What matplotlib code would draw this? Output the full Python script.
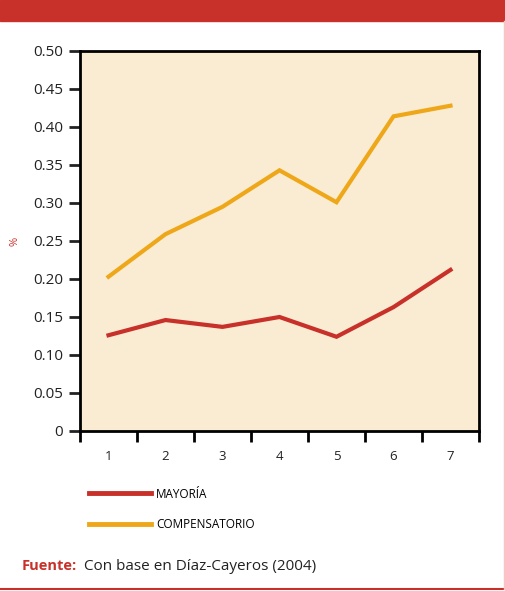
import numpy as np
import matplotlib
matplotlib.use('Agg')
import matplotlib.pyplot as plt
from matplotlib.lines import Line2D

plt.rcParams['font.family'] = ['Open Sans', 'DejaVu Sans']

RED = '#C8302A'
ORANGE = '#EFA71A'
BG = '#FAECD2'

periodos = [1, 2, 3, 4, 5, 6, 7]
mayoria = [0.126, 0.146, 0.137, 0.150, 0.124, 0.163, 0.212]
compensatorio = [0.203, 0.259, 0.295, 0.343, 0.301, 0.414, 0.428]
y_ticks = [0, 0.05, 0.10, 0.15, 0.20, 0.25, 0.30, 0.35, 0.40, 0.45, 0.50]
y_labels = ['0', '0.05', '0.10', '0.15', '0.20', '0.25', '0.30', '0.35', '0.40', '0.45', '0.50']

W, H = 505, 591
fig = plt.figure(figsize=(W / 100, H / 100), dpi=100)

# franja roja superior y linea inferior
fig.patches.append(plt.Rectangle((0, 1 - 21 / H), 1, 21 / H, transform=fig.transFigure,
                                 color=RED, zorder=0))
fig.lines.append(Line2D([0, 1], [1 - 589 / H, 1 - 589 / H], transform=fig.transFigure,
                        color=RED, lw=1.5))
fig.lines.append(Line2D([1 - 1 / W, 1 - 1 / W], [1 - 589 / H, 1 - 21 / H],
                        transform=fig.transFigure, color='#F2C9C2', lw=1))

ax = fig.add_axes([80 / W, 1 - 431 / H, 399 / W, 380 / H])
ax.set_facecolor(BG)
ax.plot(periodos, compensatorio, color=ORANGE, lw=3, solid_joinstyle='miter', zorder=3)
ax.plot(periodos, mayoria, color=RED, lw=3, solid_joinstyle='miter', zorder=3)

ax.set_xlim(0.5, 7.5)
ax.set_ylim(0, 0.5)
ax.set_yticks(y_ticks)
ax.set_yticklabels(y_labels)
ax.set_xticks(periodos)
ax.set_xticklabels([str(p) for p in periodos])
ax.set_xticks(np.arange(0.5, 8, 1), minor=True)
ax.tick_params(axis='x', which='major', length=0, pad=14, labelsize=9.5, colors='#222222')
ax.tick_params(axis='x', which='minor', length=8, width=2, direction='out')
ax.tick_params(axis='y', length=8, width=2, direction='out', labelsize=11,
               colors='#222222', pad=4)
for s in ax.spines.values():
    s.set_linewidth(2)
    s.set_color('black')

ax.set_ylabel('%', color=RED, fontsize=8, labelpad=9)

# leyenda
leg = [Line2D([0], [0], color=RED, lw=3.5), Line2D([0], [0], color=ORANGE, lw=3.5)]
fig.legend(leg, ['MAYORÍA', 'COMPENSATORIO'], loc='upper left',
           bbox_to_anchor=(78 / W, 1 - 477 / H), frameon=False, handlelength=5.3,
           handletextpad=0.4, labelspacing=1.45, fontsize=8.5)

fig.text(22 / W, 1 - 566 / H, 'Fuente:', color=RED, fontsize=10.5, fontweight='bold',
         va='center', ha='left')
fig.text(84 / W, 1 - 566 / H, 'Con base en Díaz-Cayeros (2004)', color='#222222',
         fontsize=11, va='center', ha='left')

fig.savefig('out.png', dpi=100)
